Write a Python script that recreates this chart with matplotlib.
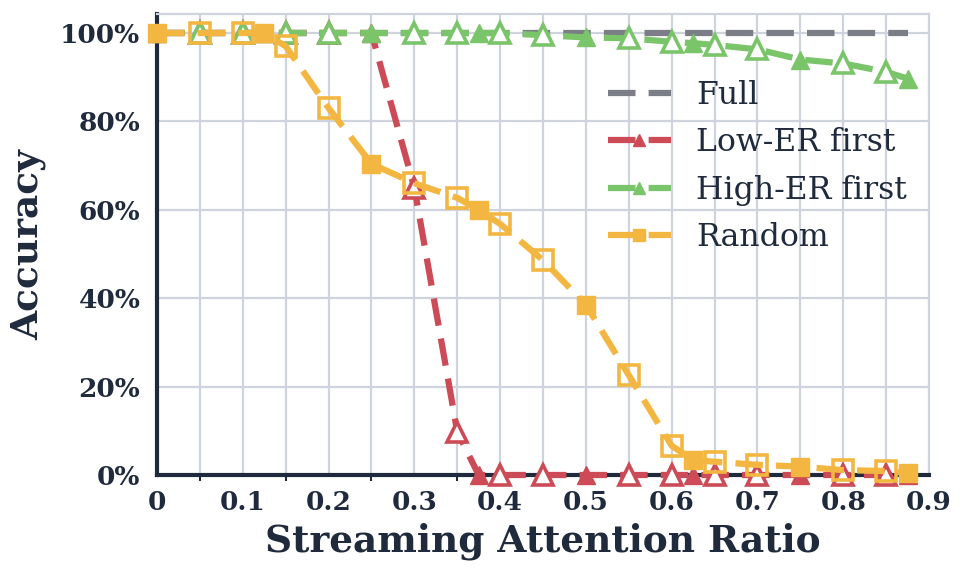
import matplotlib
matplotlib.use("Agg")
import matplotlib.pyplot as plt
import numpy as np
from matplotlib.ticker import FuncFormatter, MultipleLocator

# sweep points: eighths are drawn filled, twentieths hollow
ratio_eighth = [0.0, 0.125, 0.25, 0.375, 0.5, 0.625, 0.75, 0.875]
ratio_twentieth = [0.05, 0.1, 0.15, 0.2, 0.3, 0.35, 0.4, 0.45, 0.55,
                   0.6, 0.65, 0.7, 0.8, 0.85]

full_eighth = [1.0, 1.0, 1.0, 1.0, 1.0, 1.0, 1.0, 1.0]
full_twentieth = [1.0] * 14

low_er_eighth = [1.0, 1.0, 1.0, 0.0, 0.0, 0.0, 0.0, 0.0]
low_er_twentieth = [1.0, 1.0, 1.0, 1.0, 0.65, 0.098, 0.0, 0.0, 0.0,
                    0.0, 0.0, 0.0, 0.0, 0.0]

high_er_eighth = [1.0, 1.0, 1.0, 1.0, 0.99, 0.977, 0.94, 0.897]
high_er_twentieth = [1.0, 1.0, 1.0, 1.0, 1.0, 1.0, 1.0, 0.995, 0.988,
                     0.98, 0.973, 0.963, 0.931, 0.912]

random_eighth = [1.0, 1.0, 0.704, 0.60, 0.385, 0.034, 0.019, 0.005]
random_twentieth = [1.0, 1.0, 0.97, 0.83, 0.66, 0.627, 0.568, 0.486, 0.226,
                    0.066, 0.03, 0.023, 0.011, 0.009]

TEXT = "#1f2a3c"
GRID = "#ced3de"

plt.rcParams["font.family"] = ["DejaVu Serif"]
plt.rcParams["text.color"] = TEXT
plt.rcParams["axes.labelcolor"] = TEXT
plt.rcParams["xtick.color"] = TEXT
plt.rcParams["ytick.color"] = TEXT

fig = plt.figure(figsize=(9.67, 5.78), dpi=100)
ax = fig.add_axes([0.1624, 0.1782, 0.7983, 0.7976])

series = [
    ("Full", full_eighth, full_twentieth, "#7c7e87", None),
    ("Low-ER first", low_er_eighth, low_er_twentieth, "#cc4b56", "^"),
    ("High-ER first", high_er_eighth, high_er_twentieth, "#7ac46a", "^"),
    ("Random", random_eighth, random_twentieth, "#f3b640", "s"),
]

handles = []
for i, (label, y_e, y_t, color, marker) in enumerate(series):
    xs = np.array(ratio_eighth + ratio_twentieth)
    ys = np.array(y_e + y_t)
    order = np.argsort(xs)
    z = 3 + i
    line, = ax.plot(xs[order], ys[order], color=color, lw=4.5,
                    linestyle=(0, (4.4, 2.1)), zorder=z, clip_on=False,
                    label=label)
    if marker is None:
        handles.append(line)
        continue
    ax.plot(ratio_eighth, y_e, linestyle="none", marker=marker, ms=13.5,
            color=color, mec=color, mew=1, zorder=z + 0.2, clip_on=False)
    face = "white" if marker == "^" else "none"
    ax.plot(ratio_twentieth, y_t, linestyle="none", marker=marker, ms=14.5,
            mfc=face, mec=color, mew=2.6, zorder=z + 0.1, clip_on=False)
    h, = ax.plot([], [], color=color, lw=4.5, linestyle=(0, (4.4, 2.1)),
                 marker=marker, ms=8.5, mec=color, label=label)
    handles.append(h)

ax.set_xlim(0, 0.9)
ax.set_ylim(0, 1.043)
ax.xaxis.set_major_locator(MultipleLocator(0.1))
ax.xaxis.set_minor_locator(MultipleLocator(0.05))
ax.yaxis.set_major_locator(MultipleLocator(0.2))
ax.xaxis.set_major_formatter(FuncFormatter(lambda v, p: "0" if abs(v) < 1e-9 else f"{v:.1f}"))
ax.yaxis.set_major_formatter(FuncFormatter(lambda v, p: f"{v * 100:.0f}%"))

ax.grid(True, which="both", axis="x", color=GRID, lw=1.6, zorder=0)
ax.grid(True, which="major", axis="y", color=GRID, lw=1.6, zorder=0)
ax.set_axisbelow(True)

for side in ["top", "right"]:
    ax.spines[side].set_color(GRID)
    ax.spines[side].set_linewidth(1.6)
for side in ["left", "bottom"]:
    ax.spines[side].set_color(TEXT)
    ax.spines[side].set_linewidth(3.0)

ax.tick_params(axis="x", which="major", length=0, pad=11, labelsize=19)
ax.tick_params(axis="x", which="minor", length=4, width=1.5, color=TEXT)
ax.tick_params(axis="y", which="major", length=0, pad=12, labelsize=19)
for lab in ax.get_xticklabels() + ax.get_yticklabels():
    lab.set_fontweight("bold")

ax.set_xlabel("Streaming Attention Ratio", fontsize=27, fontweight="bold", labelpad=5)
ax.set_ylabel("Accuracy", fontsize=27, fontweight="bold", labelpad=10)

ax.legend(handles=handles, loc="center left", bbox_to_anchor=(0.584, 0.669),
          frameon=False, fontsize=22.7, handlelength=2.0, handletextpad=0.8,
          labelspacing=0.52, borderpad=0, borderaxespad=0)

fig.savefig("out.png", dpi=100)
